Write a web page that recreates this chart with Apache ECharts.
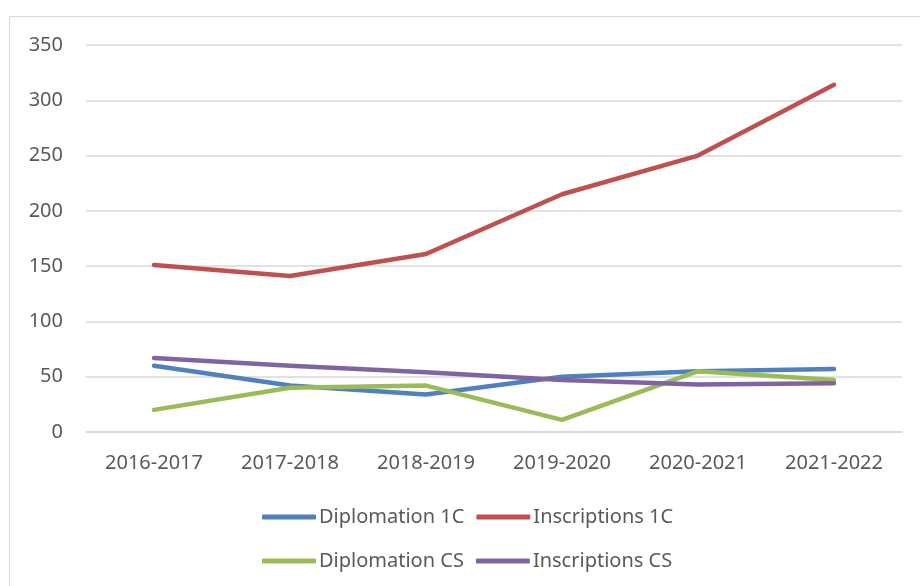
<!DOCTYPE html>
<html>
<head>
<meta charset="utf-8">
<script src="https://cdn.jsdelivr.net/npm/echarts@6/dist/echarts.min.js"></script>
<style>
  html, body { margin: 0; padding: 0; background: #fff; }
  #chart-container { width: 920px; height: 586px; }
</style>
</head>
<body>
<div id="chart-container"></div>
<script>
const years = ['2016-2017', '2017-2018', '2018-2019', '2019-2020', '2020-2021', '2021-2022']
const diplomation1C = [60, 42, 34, 50, 55, 57]
const inscriptions1C = [151, 141, 161, 215, 250, 314]
const diplomationCS = [20, 40, 42, 11, 55, 47]
const inscriptionsCS = [67, 60, 54, 47, 43, 44]

const font = 'Noto Sans'
const textColor = '#595959'

const dom = document.getElementById('chart-container')
const myChart = echarts.init(dom, null, { renderer: 'canvas' })

const line = (name, data, color) => ({
  name,
  type: 'line',
  data,
  color,
  symbol: 'none',
  lineStyle: { width: 4.5, color, cap: 'round', join: 'round' }
})

const legendBase = {
  left: 257,
  icon: 'roundRect',
  itemWidth: 54,
  itemHeight: 5,
  itemGap: 12,
  textStyle: { fontFamily: font, fontSize: 20, color: textColor, padding: [0, 0, 0, -2] }
}

const options = {
  animation: false,
  graphic: [{
    type: 'rect',
    shape: { x: 9.5, y: 16.5, width: 1000, height: 1000 },
    style: { fill: 'none', stroke: '#d9d9d9', lineWidth: 1 },
    silent: true
  }],
  grid: { left: 86, right: 18, top: 45, bottom: 154 },
  legend: [
    { ...legendBase, top: 502, data: ['Diplomation 1C', 'Inscriptions 1C'] },
    { ...legendBase, top: 546, data: ['Diplomation CS', 'Inscriptions CS'] }
  ],
  xAxis: {
    type: 'category',
    data: years,
    boundaryGap: true,
    axisLine: { lineStyle: { color: '#d9d9d9', width: 1.5 } },
    axisTick: { show: false },
    axisLabel: { fontFamily: font, fontSize: 20, color: textColor, margin: 21 }
  },
  yAxis: {
    type: 'value',
    min: 0,
    max: 350,
    interval: 50,
    axisLine: { show: false },
    axisTick: { show: false },
    axisLabel: { fontFamily: font, fontSize: 20, color: textColor, margin: 23 },
    splitLine: { lineStyle: { color: '#d9d9d9', width: 1.5 } }
  },
  series: [
    line('Diplomation 1C', diplomation1C, '#4F81BD'),
    line('Inscriptions 1C', inscriptions1C, '#C0504D'),
    line('Diplomation CS', diplomationCS, '#9BBB59'),
    line('Inscriptions CS', inscriptionsCS, '#8064A2')
  ]
}

myChart.setOption(options)
window.addEventListener('resize', myChart.resize)
</script>
</body>
</html>
